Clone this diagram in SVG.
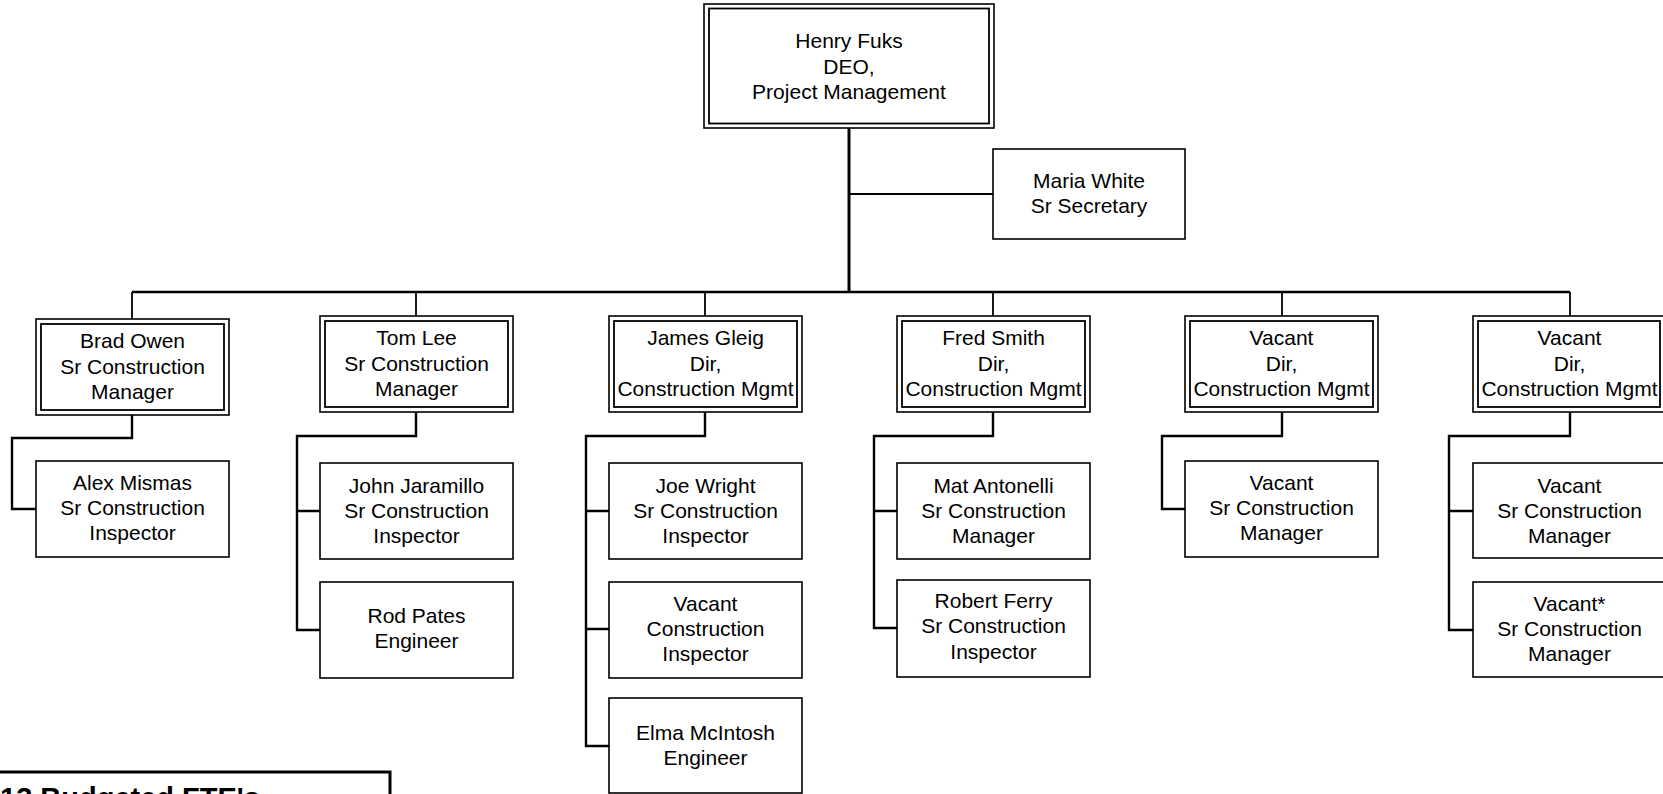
<svg xmlns="http://www.w3.org/2000/svg" width="1663" height="794" viewBox="0 0 1663 794">
<style>
text{font-family:"Liberation Sans",Arial,sans-serif;font-size:21px;fill:#000;text-anchor:middle}
.box{fill:#fff;stroke:#000;stroke-width:1.6}
.inner{fill:none;stroke:#000;stroke-width:1.8}
.thick{fill:none;stroke:#000;stroke-width:3}
.mid{fill:none;stroke:#000;stroke-width:2.4}
.thin{fill:none;stroke:#000;stroke-width:1.8}
.fte{font-size:29px;font-weight:bold;text-anchor:start}
</style>
<rect width="1663" height="794" fill="#fff"/>
<g id="connectors">
<path class="thick" d="M849 128V292"/>
<path class="thin" d="M849 194H993"/>
<path class="mid" d="M132 292H1570"/>
<path class="thin" d="M132 292V319M416 292V316M705 292V316M993 292V316M1282 292V316M1570 292V316"/>
<path class="mid" d="M132 415V438H12V509H36"/>
<path class="mid" d="M416 412V436H297V630H320M297 511H320"/>
<path class="mid" d="M705 412V436H586V746H609M586 511H609M586 629H609"/>
<path class="mid" d="M993 412V436H874V628H897M874 511H897"/>
<path class="mid" d="M1282 412V436H1162V509H1185"/>
<path class="mid" d="M1570 412V436H1449V630H1473M1449 511H1473"/>
</g>
<g id="henry">
<rect class="box" x="704" y="4" width="290" height="124"/>
<rect class="inner" x="709" y="8.5" width="280" height="115"/>
<text x="849" y="48">Henry Fuks</text>
<text x="849" y="74">DEO,</text>
<text x="849" y="99">Project Management</text>
</g>
<g id="maria">
<rect class="box" x="993" y="149" width="192" height="90"/>
<text x="1089" y="188">Maria White</text>
<text x="1089" y="213">Sr Secretary</text>
</g>
<g id="brad">
<rect class="box" x="36" y="319" width="193" height="96"/>
<rect class="inner" x="41" y="324" width="183" height="86"/>
<text x="132.5" y="348">Brad Owen</text>
<text x="132.5" y="374">Sr Construction</text>
<text x="132.5" y="399">Manager</text>
</g>
<g id="alex">
<rect class="box" x="36" y="461" width="193" height="96"/>
<text x="132.5" y="490">Alex Mismas</text>
<text x="132.5" y="515">Sr Construction</text>
<text x="132.5" y="540">Inspector</text>
</g>
<g id="tom">
<rect class="box" x="320" y="316" width="193" height="96"/>
<rect class="inner" x="325" y="321" width="183" height="86"/>
<text x="416.5" y="345">Tom Lee</text>
<text x="416.5" y="371">Sr Construction</text>
<text x="416.5" y="396">Manager</text>
</g>
<g id="john">
<rect class="box" x="320" y="463" width="193" height="96"/>
<text x="416.5" y="493">John Jaramillo</text>
<text x="416.5" y="518">Sr Construction</text>
<text x="416.5" y="543">Inspector</text>
</g>
<g id="rod">
<rect class="box" x="320" y="582" width="193" height="96"/>
<text x="416.5" y="623">Rod Pates</text>
<text x="416.5" y="648">Engineer</text>
</g>
<g id="james">
<rect class="box" x="609" y="316" width="193" height="96"/>
<rect class="inner" x="614" y="321" width="183" height="86"/>
<text x="705.5" y="345">James Gleig</text>
<text x="705.5" y="371">Dir,</text>
<text x="705.5" y="396">Construction Mgmt</text>
</g>
<g id="joe">
<rect class="box" x="609" y="463" width="193" height="96"/>
<text x="705.5" y="493">Joe Wright</text>
<text x="705.5" y="518">Sr Construction</text>
<text x="705.5" y="543">Inspector</text>
</g>
<g id="vacant-ci">
<rect class="box" x="609" y="582" width="193" height="96"/>
<text x="705.5" y="611">Vacant</text>
<text x="705.5" y="636">Construction</text>
<text x="705.5" y="661">Inspector</text>
</g>
<g id="elma">
<rect class="box" x="609" y="698" width="193" height="95"/>
<text x="705.5" y="740">Elma McIntosh</text>
<text x="705.5" y="765">Engineer</text>
</g>
<g id="fred">
<rect class="box" x="897" y="316" width="193" height="96"/>
<rect class="inner" x="902" y="321" width="183" height="86"/>
<text x="993.5" y="345">Fred Smith</text>
<text x="993.5" y="371">Dir,</text>
<text x="993.5" y="396">Construction Mgmt</text>
</g>
<g id="mat">
<rect class="box" x="897" y="463" width="193" height="96"/>
<text x="993.5" y="493">Mat Antonelli</text>
<text x="993.5" y="518">Sr Construction</text>
<text x="993.5" y="543">Manager</text>
</g>
<g id="robert">
<rect class="box" x="897" y="580" width="193" height="97"/>
<text x="993.5" y="608">Robert Ferry</text>
<text x="993.5" y="633">Sr Construction</text>
<text x="993.5" y="659">Inspector</text>
</g>
<g id="vacant-dir5">
<rect class="box" x="1185" y="316" width="193" height="96"/>
<rect class="inner" x="1190" y="321" width="183" height="86"/>
<text x="1281.5" y="345">Vacant</text>
<text x="1281.5" y="371">Dir,</text>
<text x="1281.5" y="396">Construction Mgmt</text>
</g>
<g id="vacant-scm5">
<rect class="box" x="1185" y="461" width="193" height="96"/>
<text x="1281.5" y="490">Vacant</text>
<text x="1281.5" y="515">Sr Construction</text>
<text x="1281.5" y="540">Manager</text>
</g>
<g id="vacant-dir6">
<rect class="box" x="1473" y="316" width="193" height="96"/>
<rect class="inner" x="1478" y="321" width="182" height="86"/>
<text x="1569.5" y="345">Vacant</text>
<text x="1569.5" y="371">Dir,</text>
<text x="1569.5" y="396">Construction Mgmt</text>
</g>
<g id="vacant-scm6">
<rect class="box" x="1473" y="463" width="193" height="95"/>
<text x="1569.5" y="493">Vacant</text>
<text x="1569.5" y="518">Sr Construction</text>
<text x="1569.5" y="543">Manager</text>
</g>
<g id="vacant-scm6b">
<rect class="box" x="1473" y="582" width="193" height="95"/>
<text x="1569.5" y="611">Vacant*</text>
<text x="1569.5" y="636">Sr Construction</text>
<text x="1569.5" y="661">Manager</text>
</g>
<g id="fte">
<rect x="-10" y="772" width="400" height="60" fill="#fff" stroke="#000" stroke-width="3"/>
<text class="fte" x="0" y="808">13 Budgeted FTE's</text>
</g>
</svg>
